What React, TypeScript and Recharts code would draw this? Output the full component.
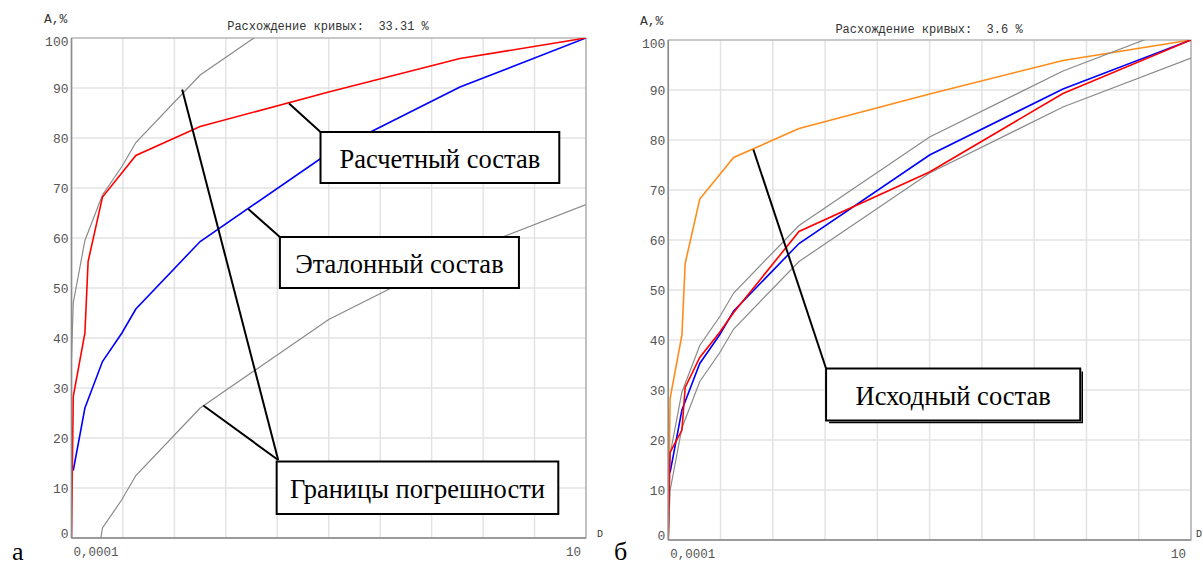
import React from "react";
import {
  LineChart,
  Line,
  XAxis,
  YAxis,
  CartesianGrid,
  ReferenceArea,
  ReferenceLine,
} from "recharts";

const MONO = '"Liberation Mono", "DejaVu Sans Mono", monospace';
const SERIF = '"Liberation Serif", "Times New Roman", "DejaVu Serif", serif';

// log axis, 0.0001 .. 10, gridline every half decade
const xTicks = [0.0001, 0.000316, 0.001, 0.00316, 0.01, 0.0316, 0.1, 0.316, 1, 3.16, 10];
const xTickLabels = ["0,0001", "", "", "", "", "", "", "", "", "", "10"];
const yTicks = [0, 10, 20, 30, 40, 50, 60, 70, 80, 90, 100];

// Исходный состав (on panel "а" drawn as Расчетный состав)
const initialD = [0.0001, 0.000104, 0.000135, 0.000145, 0.0002, 0.000422, 0.00178, 0.0316, 0.596, 10];
const initialA = [0, 28.3, 41, 55.3, 68.2, 76.5, 82.3, 89.2, 95.9, 100];

// Эталонный состав
const etalonD = [0.000104, 0.000135, 0.0002, 0.000309, 0.000422, 0.00178, 0.0316, 0.596, 10];
const etalonA = [13.5, 26, 35.3, 41, 45.8, 59.3, 77, 90.2, 100];

// Границы погрешности, panel "а" (33.31 %)
const wideUpperD = [0.0001, 0.000104, 0.000135, 0.0002, 0.000309, 0.000422, 0.00178, 0.0316, 0.596, 10];
const wideUpperA = [36, 47, 59.5, 68.6, 74.3, 79.1, 92.6, 110.3, 123.5, 133.3];
const wideLowerD = [0.000193, 0.0002, 0.000309, 0.000422, 0.00178, 0.0316, 0.596, 10];
const wideLowerA = [0, 2, 7.7, 12.5, 26, 43.7, 56.9, 66.7];

// Расчетный состав, panel "б"
const optimD = [0.0001, 0.000104, 0.000135, 0.000145, 0.0002, 0.000309, 0.000422, 0.00178, 0.0316, 0.596, 10];
const optimA = [0, 17.5, 22, 30.5, 36.5, 41.5, 45.5, 61.7, 73.6, 89.3, 100];

// Границы погрешности, panel "б" (3.6 %)
const narrowUpperD = [0.0001, 0.000104, 0.000135, 0.0002, 0.000309, 0.000422, 0.00178, 0.0316, 0.596, 10];
const narrowUpperA = [10, 17.1, 29.6, 38.9, 44.6, 49.4, 62.9, 80.6, 93.8, 103.6];
const narrowLowerD = [0.0001, 0.000104, 0.000135, 0.0002, 0.000309, 0.000422, 0.00178, 0.0316, 0.596, 10];
const narrowLowerA = [0, 9.9, 22.4, 31.7, 37.4, 42.2, 55.7, 73.4, 86.6, 96.4];

const toPoints = (d: number[], a: number[]) => d.map((x, i) => ({ d: x, a: a[i] }));

type Series = { name: string; d: number[]; a: number[]; color: string; width: number };
type Box = { text: string; x1: number; x2: number; y1: number; y2: number; shadow?: boolean };
type Leader = { from: [number, number]; to: [number, number] };

const seriesA: Series[] = [
  { name: "upper", d: wideUpperD, a: wideUpperA, color: "#8a8a8a", width: 1.2 },
  { name: "lower", d: wideLowerD, a: wideLowerA, color: "#8a8a8a", width: 1.2 },
  { name: "etalon", d: etalonD, a: etalonA, color: "#0000ff", width: 1.6 },
  { name: "calc", d: initialD, a: initialA, color: "#ff0000", width: 1.6 },
];

const seriesB: Series[] = [
  { name: "initial", d: initialD, a: initialA, color: "#ff8c1a", width: 1.6 },
  { name: "upper", d: narrowUpperD, a: narrowUpperA, color: "#8a8a8a", width: 1.2 },
  { name: "lower", d: narrowLowerD, a: narrowLowerA, color: "#8a8a8a", width: 1.2 },
  { name: "etalon", d: etalonD, a: etalonA, color: "#0000ff", width: 1.6 },
  { name: "calc", d: optimD, a: optimA, color: "#ff0000", width: 1.6 },
];

const boxesA: Box[] = [
  { text: "Расчетный состав", x1: 0.0263, x2: 5.5, y1: 71, y2: 81.2 },
  { text: "Эталонный состав", x1: 0.0106, x2: 2.23, y1: 50, y2: 60.2 },
  { text: "Границы погрешности", x1: 0.00986, x2: 5.38, y1: 4.8, y2: 15.3 },
];
const leadersA: Leader[] = [
  { from: [0.013, 86.9], to: [0.0263, 81.2] },
  { from: [0.00522, 65.8], to: [0.0106, 60.2] },
  { from: [0.00119, 89.7], to: [0.0102, 15.6] },
  { from: [0.00191, 26.5], to: [0.0102, 15.6] },
];

const boxesB: Box[] = [{ text: "Исходный состав", x1: 0.00323, x2: 0.872, y1: 23.9, y2: 34.3, shadow: true }];
const leadersB: Leader[] = [{ from: [0.000651, 78.1], to: [0.00323, 34.3] }];

function XTick(props: any) {
  const { x, y, payload } = props;
  const i = xTicks.indexOf(payload.value);
  const label = xTickLabels[i];
  if (!label) return null;
  const first = i === 0;
  return (
    <text
      x={first ? x + 2 : x - 5}
      y={y + 15}
      textAnchor={first ? "start" : "end"}
      dominantBaseline="central"
      fontFamily={MONO}
      fontSize={12.5}
      fill="#555"
    >
      {label}
    </text>
  );
}

function YTick(props: any) {
  const { x, y, payload } = props;
  const v = payload.value;
  const dy = v === 100 ? 4.5 : v === 0 ? -4 : 1;
  return (
    <text x={x} y={y + dy} textAnchor="end" dominantBaseline="central" fontFamily={MONO} fontSize={13} fill="#555">
      {v}
    </text>
  );
}

// text + optional drop shadow for the annotation boxes
function BoxLabel(props: any) {
  const { viewBox, text, shadow } = props;
  if (!viewBox) return null;
  const { x, y, width, height } = viewBox;
  return (
    <g>
      {shadow && (
        <path
          d={`M${x + width + 2},${y + 3} V${y + height + 2} H${x + 3}`}
          fill="none"
          stroke="#000"
          strokeWidth={1.5}
        />
      )}
      <text
        x={x + width / 2}
        y={y + height / 2 + 1}
        textAnchor="middle"
        dominantBaseline="central"
        style={{ fontFamily: SERIF }}
        fontSize={26.5}
        fill="#000"
      >
        {text}
      </text>
    </g>
  );
}

function Panel({
  left,
  width,
  margin,
  series,
  boxes,
  leaders,
}: {
  left: number;
  width: number;
  margin: { top: number; right: number; bottom: number; left: number };
  series: Series[];
  boxes: Box[];
  leaders: Leader[];
}) {
  return (
    <div style={{ position: "absolute", left, top: 0, width, height: 565 }}>
      <LineChart width={width} height={565} margin={margin}>
        <CartesianGrid stroke="#e3e3e3" strokeWidth={1.5} />
        <XAxis
          dataKey="d"
          type="number"
          scale="log"
          domain={[0.0001, 10]}
          ticks={xTicks}
          interval={0}
          allowDataOverflow
          height={20}
          tickLine={false}
          tickSize={0}
          tickMargin={0}
          tick={<XTick />}
          axisLine={{ stroke: "#8c8c8c", strokeWidth: 1.5 }}
        />
        <YAxis
          type="number"
          domain={[0, 100]}
          ticks={yTicks}
          interval={0}
          allowDataOverflow
          width={40}
          tickLine={false}
          tickSize={0}
          tickMargin={3}
          tick={<YTick />}
          axisLine={{ stroke: "#8c8c8c", strokeWidth: 1.5 }}
        />
        <ReferenceArea x1={0.0001} x2={10} y1={0} y2={100} fill="none" stroke="#a6a6a6" strokeWidth={1.2} />
        {series.map((s) => (
          <Line
            key={s.name}
            data={toPoints(s.d, s.a)}
            dataKey="a"
            type="linear"
            stroke={s.color}
            strokeWidth={s.width}
            dot={false}
            activeDot={false}
            isAnimationActive={false}
          />
        ))}
        {leaders.map((l, i) => (
          <ReferenceLine
            key={"l" + i}
            segment={[
              { x: l.from[0], y: l.from[1] },
              { x: l.to[0], y: l.to[1] },
            ]}
            stroke="#000"
            strokeWidth={2}
            ifOverflow="visible"
            zIndex={1400}
          />
        ))}
        {boxes.map((b) => (
          <ReferenceArea
            key={b.text}
            x1={b.x1}
            x2={b.x2}
            y1={b.y1}
            y2={b.y2}
            fill="#fff"
            fillOpacity={1}
            stroke="#000"
            strokeWidth={2}
            zIndex={1500}
            label={<BoxLabel text={b.text} shadow={b.shadow} />}
          />
        ))}
      </LineChart>
    </div>
  );
}

const textStyle: React.CSSProperties = {
  position: "absolute",
  whiteSpace: "pre",
  fontFamily: MONO,
  lineHeight: "14px",
};

export default function App() {
  return (
    <div style={{ position: "absolute", left: 0, top: 0, width: 1203, height: 565, background: "#fff", overflow: "hidden" }}>
      <Panel
        left={0}
        width={600}
        margin={{ top: 38, right: 14, bottom: 7, left: 31.5 }}
        series={seriesA}
        boxes={boxesA}
        leaders={leadersA}
      />
      <Panel
        left={600}
        width={603}
        margin={{ top: 40, right: 12, bottom: 5, left: 28.3 }}
        series={seriesB}
        boxes={boxesB}
        leaders={leadersB}
      />

      <div style={{ ...textStyle, left: 44, top: 13, fontSize: 13, color: "#333" }}>A,%</div>
      <div style={{ ...textStyle, left: 640, top: 15, fontSize: 13, color: "#333" }}>A,%</div>

      <div style={{ ...textStyle, left: 328, top: 20, fontSize: 12, color: "#333", transform: "translateX(-50%)" }}>
        {"Расхождение кривых:  33.31 %"}
      </div>
      <div style={{ ...textStyle, left: 929, top: 23, fontSize: 12, color: "#333", transform: "translateX(-50%)" }}>
        {"Расхождение кривых:  3.6 %"}
      </div>

      <div style={{ ...textStyle, left: 597, top: 528, fontSize: 10, color: "#333" }}>D</div>
      <div style={{ ...textStyle, left: 1196, top: 528, fontSize: 10, color: "#333" }}>D</div>

      <div style={{ position: "absolute", left: 12, top: 541, fontFamily: SERIF, fontSize: 26, lineHeight: "22px" }}>а</div>
      <div style={{ position: "absolute", left: 614, top: 541, fontFamily: SERIF, fontSize: 26, lineHeight: "22px" }}>б</div>
    </div>
  );
}
